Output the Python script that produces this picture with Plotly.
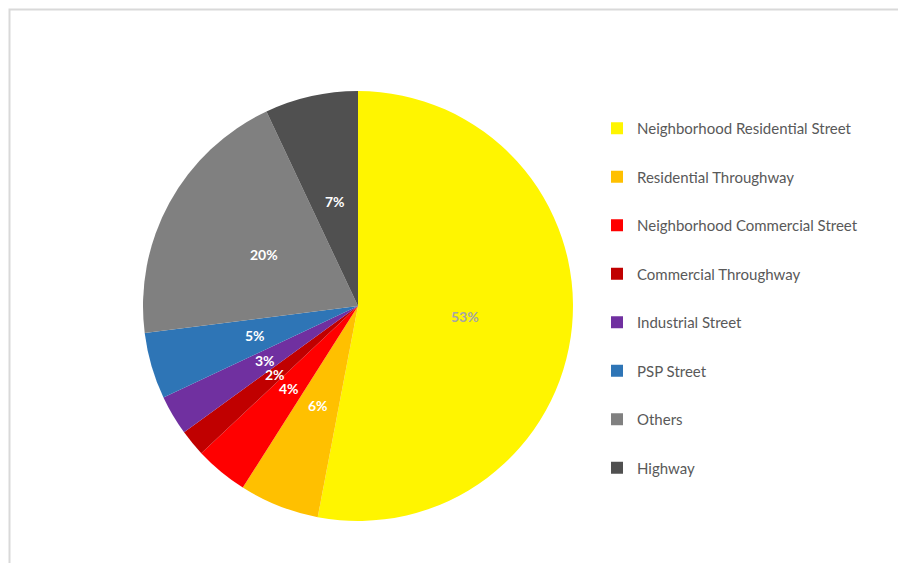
import math
import plotly.graph_objects as go

categories = ["Neighborhood Residential Street", "Residential Throughway",
              "Neighborhood Commercial Street", "Commercial Throughway",
              "Industrial Street", "PSP Street", "Others", "Highway"]
shares = [53, 6, 4, 2, 3, 5, 20, 7]
colors = ["#FFF500", "#FFC000", "#FF0000", "#C00000",
          "#7030A0", "#2E75B6", "#808080", "#505050"]
label_colors = ["#A6A6A6", "white", "white", "white", "white", "white", "white", "white"]

W, H = 906, 563
OFF = 8  # page body margin offset
CX, CY, R = 358 - OFF, 306 - OFF, 215

fig = go.Figure()
fig.add_trace(go.Pie(
    labels=categories, values=shares, sort=False, direction="clockwise", rotation=0,
    marker=dict(colors=colors, line=dict(width=0)),
    textinfo="none", hoverinfo="label+percent", showlegend=False,
    domain=dict(x=[(CX - R) / W, (CX + R) / W], y=[1 - (CY + R) / H, 1 - (CY - R) / H]),
))

# legend entries (dummy traces so the spacing can match the reference)
for i, (name, col) in enumerate(zip(categories, colors)):
    fig.add_trace(go.Scatter(
        x=[None], y=[None], mode="markers", name=name, legendgroup=f"g{i}",
        marker=dict(symbol="square", size=9, color=col),
    ))

# percentage labels placed at half radius at the middle of each slice
total = sum(shares)
cum = 0
annotations = []
for v, lc in zip(shares, label_colors):
    mid = (cum + v / 2) / total * 2 * math.pi
    cum += v
    px = CX + 0.5 * R * math.sin(mid)
    py = CY - 0.5 * R * math.cos(mid)
    annotations.append(dict(
        x=px / W, y=1 - py / H, xref="paper", yref="paper", showarrow=False,
        xanchor="center", yanchor="middle",
        text=f"<b>{round(v / total * 100)}%</b>",
        font=dict(family="Lato", size=14, color=lc),
    ))

fig.update_layout(
    width=W, height=H, margin=dict(l=0, r=0, t=0, b=0),
    paper_bgcolor="white", plot_bgcolor="white",
    xaxis=dict(visible=False), yaxis=dict(visible=False),
    annotations=annotations,
    legend=dict(x=(617 - OFF - 20) / W, xanchor="left", y=1 - (112 - OFF) / H, yanchor="top",
                tracegroupgap=26, font=dict(family="Lato", size=15, color="#595959"),
                itemsizing="constant", bgcolor="rgba(0,0,0,0)"),
    shapes=[dict(type="rect", xref="paper", yref="paper",
                 x0=(9.5 - OFF) / W, x1=1.05, y0=-0.05, y1=1 - (9.5 - OFF) / H,
                 line=dict(color="#D9D9D9", width=2), fillcolor="rgba(0,0,0,0)")],
    showlegend=True,
)

fig.write_html("out.html")
